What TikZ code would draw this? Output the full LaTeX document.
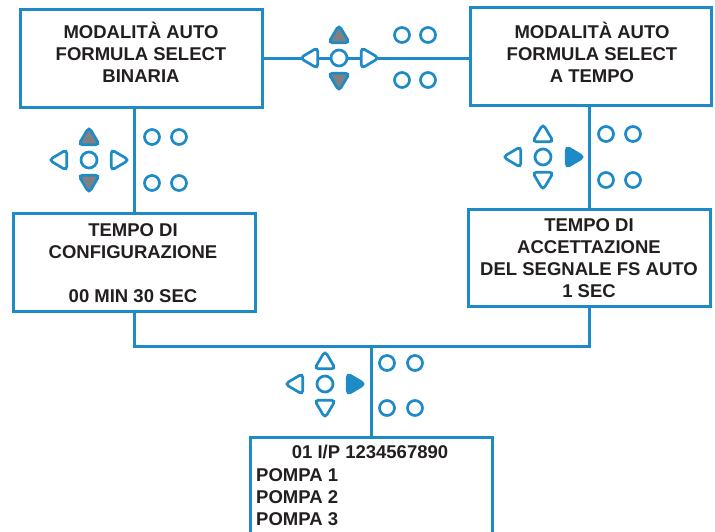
\documentclass[tikz,border=0pt]{standalone}
\usepackage{fontspec}
\setmainfont{Liberation Sans}
\definecolor{lineblue}{RGB}{30,138,200}
\definecolor{txt}{RGB}{35,31,32}
\definecolor{keygray}{RGB}{128,128,128}
\tikzset{
  box/.style={draw=lineblue, line width=3pt, rectangle, inner sep=0pt},
  conn/.style={draw=lineblue, line width=3pt},
  label/.style={font=\bfseries\fontsize{18.5}{22}\selectfont, text=txt, inner sep=0pt, align=center},
  key/.style={draw=lineblue, line width=2.7pt, fill=white},
  tri/.pic={\path[pic actions, rounded corners=4pt] (0,-10) -- (10.5,7.8) -- (-10.5,7.8) -- cycle;},
  btn/.pic={\path[pic actions] (0,0) circle[radius=8];},
  dot/.pic={\path[pic actions] (0,0) circle[radius=7.5];}
}
\begin{document}
\begin{tikzpicture}[x=1pt,y=-1pt]
\useasboundingbox (0,0) rectangle (715,531);
\clip (0,0) rectangle (715,531);
\fill[white] (0,0) rectangle (715,531);

% boxes
\node[box, minimum width=242pt, minimum height=98pt] (b1) at (141,58) {};
\node[box, minimum width=241pt, minimum height=98pt] (b2) at (590.5,56) {};
\node[box, minimum width=242pt, minimum height=98pt] (b3) at (134,262) {};
\node[box, minimum width=242pt, minimum height=97pt] (b4) at (589,257.5) {};
\node[box, minimum width=242pt, minimum height=106pt] (b5) at (371,490) {};
\coordinate (bus) at (371,346);

% connectors
\draw[conn] (b1.east) -- (b1.east -| b2.west);
\draw[conn] (b3.north) -- (b3.north |- b1.south);
\draw[conn] (b4.north) -- (b4.north |- b2.south);
\draw[conn] (b3.south) |- (bus) -| (b4.south);
\draw[conn] (bus) -- (b5.north);

% texts
\node[label] (t1) at (141,52) {MODALITÀ AUTO\\FORMULA SELECT\\BINARIA};
\node[label] (t2) at (592,52) {MODALITÀ AUTO\\FORMULA SELECT\\A TEMPO};
\node[label] (t3) at (133,263) {TEMPO DI\\CONFIGURAZIONE\\\mbox{}\\00 MIN 30 SEC};
\node[label] (t4) at (589,258) {TEMPO DI\\ACCETTAZIONE\\DEL SEGNALE FS AUTO\\1 SEC};
\node[label] (t5) at (370,452) {01 I/P 1234567890};
\node[label, align=left, anchor=west] (t6) at (256,497) {POMPA 1\\POMPA 2\\POMPA 3};

% keypad top
\pic[key, fill=keygray] at (339,35) {tri};
\pic[key, fill=keygray, rotate=180] at (339,81) {tri};
\pic[key, rotate=90] at (310,58) {tri};
\pic[key, rotate=-90] at (369,58) {tri};
\pic[key] at (339,58) {btn};
\pic[key] at (402,35) {dot};
\pic[key] at (428,35) {dot};
\pic[key] at (402,80) {dot};
\pic[key] at (428,80) {dot};

% keypad left
\pic[key, fill=keygray] at (89,137) {tri};
\pic[key, fill=keygray, rotate=180] at (89,183) {tri};
\pic[key, rotate=90] at (59,160) {tri};
\pic[key, rotate=-90] at (119,160) {tri};
\pic[key] at (89,160) {btn};
\pic[key] at (152,137) {dot};
\pic[key] at (179,137) {dot};
\pic[key] at (152,183) {dot};
\pic[key] at (179,183) {dot};

% keypad right
\pic[key] at (543,134) {tri};
\pic[key, rotate=180] at (543,180) {tri};
\pic[key, rotate=90] at (513,157) {tri};
\pic[key, fill=lineblue, rotate=-90] at (574,157) {tri};
\pic[key] at (543,157) {btn};
\pic[key] at (606,134) {dot};
\pic[key] at (633,134) {dot};
\pic[key] at (606,180) {dot};
\pic[key] at (633,180) {dot};

% keypad bottom
\pic[key] at (325,361) {tri};
\pic[key, rotate=180] at (325,408) {tri};
\pic[key, rotate=90] at (295,384) {tri};
\pic[key, fill=lineblue, rotate=-90] at (355,384) {tri};
\pic[key] at (325,384) {btn};
\pic[key] at (387,363) {dot};
\pic[key] at (415,363) {dot};
\pic[key] at (387,408) {dot};
\pic[key] at (415,408) {dot};
\end{tikzpicture}
\end{document}
